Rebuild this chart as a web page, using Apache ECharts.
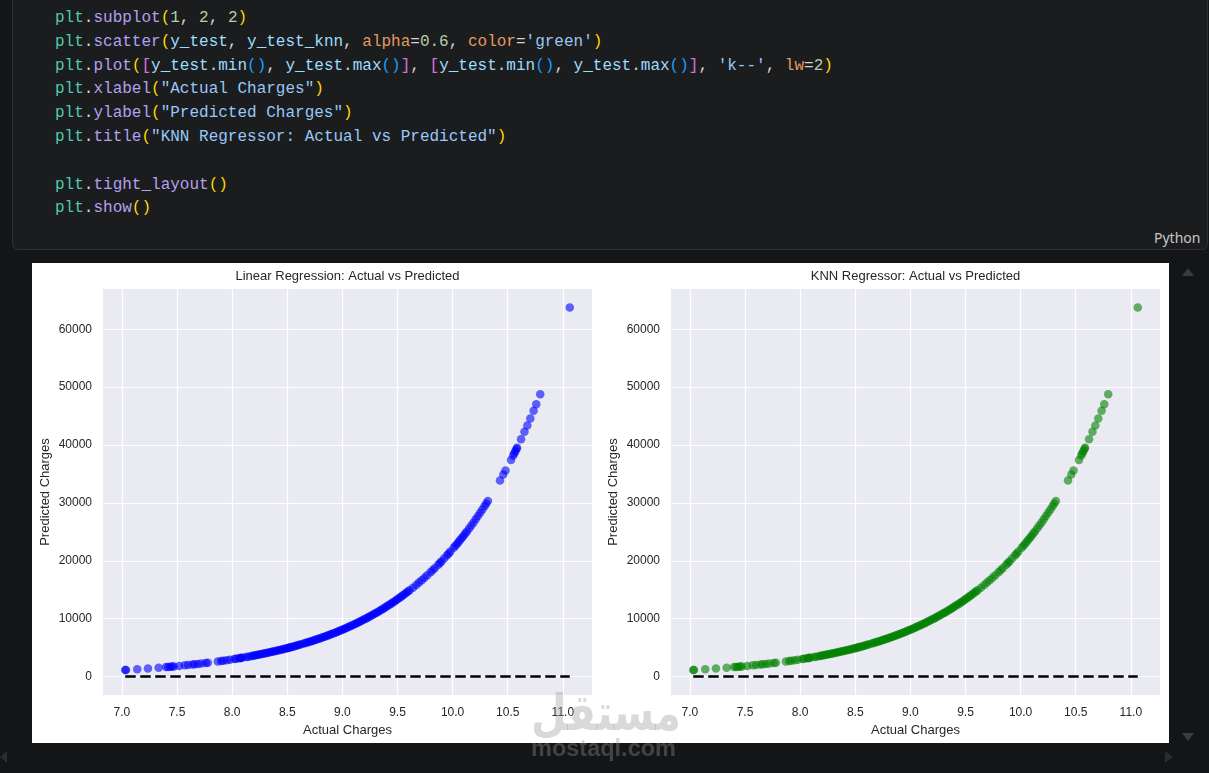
<!DOCTYPE html>
<html>
<head>
<meta charset="utf-8">
<script src="https://cdn.jsdelivr.net/npm/echarts@6/dist/echarts.min.js"></script>
<style>
  html, body { margin: 0; padding: 0; }
  body { width: 1209px; height: 773px; background: #141517; position: relative; overflow: hidden; }
  .cell { position: absolute; left: 12px; top: -12px; width: 1196px; height: 262px; box-sizing: border-box;
          background: #1b1c1e; border: 1px solid #2e2f33; border-radius: 6px; }
  pre.code { position: absolute; left: 55px; top: 7px; margin: 0; font-family: "Liberation Mono", "DejaVu Sans Mono", monospace;
             font-size: 16px; line-height: 23.8px; color: #d4d4d4; }
  .m { color: #4ec9b0; } .f { color: #b4a0f0; } .v { color: #9cdcfe; } .p { color: #e59a5c; }
  .n { color: #b5cea8; } .s { color: #98c8f8; }
  .b1 { color: #ffd700; } .b2 { color: #da70d6; } .b3 { color: #179fff; }
  .lang { position: absolute; left: 1154px; top: 228px; font-family: "Noto Sans", "Open Sans", sans-serif; font-size: 14px; color: #c8c8c8; }
  #chart { position: absolute; left: 32px; top: 263px; width: 1137px; height: 480px; background: #ffffff; }
  .tri { position: absolute; width: 0; height: 0; }
  .wm { position: absolute; pointer-events: none; color: rgba(150,150,150,0.36); font-weight: bold; white-space: nowrap; }
</style>
</head>
<body>
<div class="cell"></div>
<pre class="code"><span class="m">plt</span>.<span class="f">subplot</span><span class="b1">(</span><span class="n">1</span>, <span class="n">2</span>, <span class="n">2</span><span class="b1">)</span>
<span class="m">plt</span>.<span class="f">scatter</span><span class="b1">(</span><span class="v">y_test</span>, <span class="v">y_test_knn</span>, <span class="p">alpha</span>=<span class="n">0.6</span>, <span class="p">color</span>=<span class="s">'green'</span><span class="b1">)</span>
<span class="m">plt</span>.<span class="f">plot</span><span class="b1">(</span><span class="b2">[</span><span class="v">y_test</span>.<span class="v">min</span><span class="b3">()</span>, <span class="v">y_test</span>.<span class="v">max</span><span class="b3">()</span><span class="b2">]</span>, <span class="b2">[</span><span class="v">y_test</span>.<span class="v">min</span><span class="b3">()</span>, <span class="v">y_test</span>.<span class="v">max</span><span class="b3">()</span><span class="b2">]</span>, <span class="s">'k--'</span>, <span class="p">lw</span>=<span class="n">2</span><span class="b1">)</span>
<span class="m">plt</span>.<span class="f">xlabel</span><span class="b1">(</span><span class="s">"Actual Charges"</span><span class="b1">)</span>
<span class="m">plt</span>.<span class="f">ylabel</span><span class="b1">(</span><span class="s">"Predicted Charges"</span><span class="b1">)</span>
<span class="m">plt</span>.<span class="f">title</span><span class="b1">(</span><span class="s">"KNN Regressor: Actual vs Predicted"</span><span class="b1">)</span>

<span class="m">plt</span>.<span class="f">tight_layout</span><span class="b1">()</span>
<span class="m">plt</span>.<span class="f">show</span><span class="b1">()</span></pre>
<div class="lang">Python</div>
<div id="chart"></div>
<div class="tri" style="left:1182px;top:268px;border-left:6px solid transparent;border-right:6px solid transparent;border-bottom:8px solid #3a3b3e;"></div>
<div class="tri" style="left:1182px;top:733px;border-left:6px solid transparent;border-right:6px solid transparent;border-top:8px solid #3a3b3e;"></div>
<div class="tri" style="left:1165px;top:751px;border-top:6px solid transparent;border-bottom:6px solid transparent;border-left:8px solid #2c2d30;"></div>
<div class="tri" style="left:0px;top:751px;border-top:6px solid transparent;border-bottom:6px solid transparent;border-right:7px solid #2c2d30;"></div>
<div class="wm" style="left:531px;top:684px;font-family:'DejaVu Sans',sans-serif;font-size:50px;transform:scaleX(0.82);transform-origin:left top;" dir="rtl">مستقل</div>
<div class="wm" style="left:531px;top:735px;font-family:'Liberation Sans',sans-serif;font-size:23.5px;">mostaql.com</div>
<script>
// Actual charges (x values)
const actualCharges = [7.030, 7.037, 7.139, 7.236, 7.333, 7.400, 7.420, 7.440, 7.455, 7.470, 7.520, 7.570, 7.600, 7.640, 7.660, 7.690, 7.720, 7.760, 7.780, 7.870, 7.900, 7.920, 7.950, 7.980, 8.020, 8.060, 8.080, 8.130, 8.170, 8.200, 8.230, 8.260, 8.290, 8.320, 8.350, 8.380, 8.410, 8.440, 8.470, 8.500, 8.520, 8.550, 8.580, 8.610, 8.650, 8.680, 8.710, 8.740, 8.770, 8.800, 8.830, 8.860, 8.890, 8.920, 8.950, 8.980, 9.010, 9.040, 9.070, 9.100, 9.130, 9.160, 9.190, 9.220, 9.250, 9.280, 9.310, 9.340, 9.370, 9.400, 9.430, 9.460, 9.490, 9.520, 9.550, 9.580, 9.640, 9.670, 9.720, 9.770, 9.800, 9.840, 9.870, 9.900, 9.950, 9.980, 10.010, 10.040, 10.070, 10.100, 10.130, 10.170, 10.210, 10.250, 10.290, 10.320, 10.430, 10.460, 10.480, 10.530, 10.550, 10.560, 10.570, 10.580, 10.585, 10.621, 10.652, 10.678, 10.705, 10.735, 10.759, 10.795, 11.063,
  8.035, 8.075, 8.095, 8.145, 8.185, 8.215, 8.245, 8.275, 8.305, 8.335, 8.365, 8.395, 8.425, 8.455, 8.485, 8.515, 8.535, 8.565, 8.595, 8.625, 8.665, 8.695, 8.725, 8.755, 8.785, 8.815, 8.845, 8.875, 8.905, 8.935, 8.965, 8.995, 9.025, 9.055, 9.085, 9.115, 9.145, 9.175, 9.205, 9.235, 9.265, 9.295, 9.325, 9.355, 9.385, 9.415, 9.445, 9.475, 9.505, 9.535, 9.565, 9.595,
  9.610, 9.695, 9.745, 9.820, 9.885, 9.925, 9.965, 10.025, 10.055, 10.085, 10.115, 10.150, 10.190, 10.230, 10.270, 10.305];

// Linear Regression predicted charges (y)
const lrPredicted = [1130, 1138, 1260, 1389, 1530, 1636, 1669, 1703, 1729, 1755, 1845, 1939, 1998, 2080, 2122, 2186, 2253, 2345, 2392, 2618, 2697, 2752, 2836, 2922, 3041, 3165, 3229, 3395, 3533, 3641, 3752, 3866, 3984, 4105, 4230, 4359, 4492, 4629, 4770, 4915, 5014, 5167, 5324, 5486, 5710, 5884, 6063, 6248, 6438, 6634, 6836, 7045, 7259, 7480, 7708, 7943, 8185, 8434, 8691, 8955, 9228, 9509, 9799, 10097, 10405, 10722, 11048, 11384, 11731, 12088, 12457, 12836, 13227, 13630, 14045, 14472, 15367, 15835, 16647, 17501, 18034, 18770, 19341, 19930, 20952, 21590, 22248, 22925, 23624, 24343, 25084, 26108, 27174, 28283, 29437, 30333, 33860, 34891, 35596, 37421, 38177, 38561, 38949, 39340, 39537, 40987, 42277, 43391, 44578, 45936, 47052, 48776, 63768,
  3087, 3213, 3278, 3446, 3587, 3696, 3809, 3925, 4044, 4167, 4294, 4425, 4560, 4699, 4842, 4989, 5090, 5245, 5405, 5569, 5797, 5973, 6155, 6342, 6536, 6735, 6940, 7151, 7369, 7593, 7824, 8063, 8308, 8561, 8822, 9091, 9368, 9653, 9947, 10250, 10562, 10884, 11215, 11556, 11908, 12271, 12645, 13030, 13427, 13836, 14257, 14691,
  14913, 16236, 17069, 18398, 19634, 20435, 21269, 22584, 23272, 23980, 24711, 25591, 26635, 27722, 28854, 29881];

// KNN Regressor predicted charges (y)
const knnPredicted = [1130, 1138, 1260, 1389, 1530, 1636, 1669, 1703, 1729, 1755, 1845, 1939, 1998, 2080, 2122, 2186, 2253, 2345, 2392, 2618, 2697, 2752, 2836, 2922, 3041, 3165, 3229, 3395, 3533, 3641, 3752, 3866, 3984, 4105, 4230, 4359, 4492, 4629, 4770, 4915, 5014, 5167, 5324, 5486, 5710, 5884, 6063, 6248, 6438, 6634, 6836, 7045, 7259, 7480, 7708, 7943, 8185, 8434, 8691, 8955, 9228, 9509, 9799, 10097, 10405, 10722, 11048, 11384, 11731, 12088, 12457, 12836, 13227, 13630, 14045, 14472, 15367, 15835, 16647, 17501, 18034, 18770, 19341, 19930, 20952, 21590, 22248, 22925, 23624, 24343, 25084, 26108, 27174, 28283, 29437, 30333, 33860, 34891, 35596, 37421, 38177, 38561, 38949, 39340, 39537, 40987, 42277, 43391, 44578, 45936, 47052, 48776, 63768,
  3087, 3213, 3278, 3446, 3587, 3696, 3809, 3925, 4044, 4167, 4294, 4425, 4560, 4699, 4842, 4989, 5090, 5245, 5405, 5569, 5797, 5973, 6155, 6342, 6536, 6735, 6940, 7151, 7369, 7593, 7824, 8063, 8308, 8561, 8822, 9091, 9368, 9653, 9947, 10250, 10562, 10884, 11215, 11556, 11908, 12271, 12645, 13030, 13427, 13836, 14257, 14691,
  14913, 16236, 17069, 18398, 19634, 20435, 21269, 22584, 23272, 23980, 24711, 25591, 26635, 27722, 28854, 29881];

const xTicks = [7.0, 7.5, 8.0, 8.5, 9.0, 9.5, 10.0, 10.5, 11.0];
const yTicks = [0, 10000, 20000, 30000, 40000, 50000, 60000];
const titles = ['Linear Regression: Actual vs Predicted', 'KNN Regressor: Actual vs Predicted'];
const xLabel = 'Actual Charges';
const yLabel = 'Predicted Charges';

const FONT = "'Liberation Sans', Arial, sans-serif";
const TXT = '#262626';
const lo = Math.min(...actualCharges), hi = Math.max(...actualCharges);
const yMaxData = Math.max(...lrPredicted);
const xPad = (hi - lo) * 0.05;
const yPad = (yMaxData - lo) * 0.05;

function xAxisFor(i) {
  return {
    type: 'value', gridIndex: i, min: lo - xPad, max: hi + xPad,
    axisLine: { show: false },
    axisTick: { show: false, customValues: xTicks },
    axisLabel: { customValues: xTicks, formatter: v => v.toFixed(1), color: TXT, fontSize: 12, fontFamily: FONT, margin: 12 },
    splitLine: { show: true, lineStyle: { color: '#ffffff', width: 1.2 } },
    name: xLabel, nameLocation: 'middle', nameGap: 26,
    nameTextStyle: { color: TXT, fontSize: 13, fontFamily: FONT }
  };
}
function yAxisFor(i) {
  return {
    type: 'value', gridIndex: i, min: lo - yPad, max: yMaxData + yPad,
    axisLine: { show: false },
    axisTick: { show: false, customValues: yTicks },
    axisLabel: { customValues: yTicks, formatter: v => String(Math.round(v)), color: TXT, fontSize: 12, fontFamily: FONT, margin: 11 },
    splitLine: { show: true, lineStyle: { color: '#ffffff', width: 1.2 } },
    name: yLabel, nameLocation: 'middle', nameGap: 51, nameRotate: 90,
    nameTextStyle: { color: TXT, fontSize: 13, fontFamily: FONT }
  };
}
function pairs(xs, ys) { return xs.map((x, k) => [x, ys[k]]); }

const chart = echarts.init(document.getElementById('chart'), null, { renderer: 'canvas' });
chart.setOption({
  animation: false,
  backgroundColor: '#ffffff',
  title: titles.map((t, i) => ({
    text: t, left: i === 0 ? 315.5 : 883.5, top: 7, textAlign: 'center', padding: 0,
    textStyle: { fontSize: 13, fontWeight: 'normal', color: TXT, fontFamily: FONT }
  })),
  grid: [
    { left: 71, top: 26, width: 489, height: 406, show: true, backgroundColor: '#eaeaf2', borderWidth: 0 },
    { left: 639, top: 26, width: 489, height: 406, show: true, backgroundColor: '#eaeaf2', borderWidth: 0 }
  ],
  xAxis: [xAxisFor(0), xAxisFor(1)],
  yAxis: [yAxisFor(0), yAxisFor(1)],
  series: [
    { type: 'scatter', xAxisIndex: 0, yAxisIndex: 0, data: pairs(actualCharges, lrPredicted),
      symbolSize: 8.5, itemStyle: { color: '#0000ff', opacity: 0.6 }, z: 2 },
    { type: 'line', xAxisIndex: 0, yAxisIndex: 0, data: [[lo, lo], [hi, hi]], symbol: 'none',
      lineStyle: { color: '#000000', width: 2.5, type: [10.5, 4.5] }, z: 3, silent: true },
    { type: 'scatter', xAxisIndex: 1, yAxisIndex: 1, data: pairs(actualCharges, knnPredicted),
      symbolSize: 8.5, itemStyle: { color: '#008000', opacity: 0.6 }, z: 2 },
    { type: 'line', xAxisIndex: 1, yAxisIndex: 1, data: [[lo, lo], [hi, hi]], symbol: 'none',
      lineStyle: { color: '#000000', width: 2.5, type: [10.5, 4.5] }, z: 3, silent: true }
  ]
});
</script>
</body>
</html>
